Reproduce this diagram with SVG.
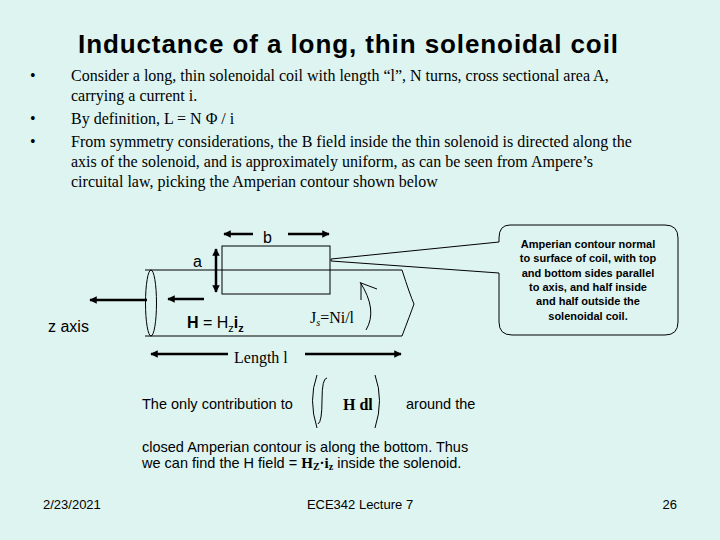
<svg xmlns="http://www.w3.org/2000/svg" width="720" height="540" viewBox="0 0 720 540">
<defs>
<style>
.s{font-family:"Liberation Serif",serif;font-size:16px;fill:#000}
.a{font-family:"Liberation Sans",Arial,sans-serif;fill:#000}
.l{stroke:#000;stroke-width:1;fill:none}
.ar{stroke:#000;stroke-width:2.5;fill:none}
</style>
<marker id="h" viewBox="0 0 10 10" refX="9" refY="5" markerWidth="3" markerHeight="3" orient="auto-start-reverse"><path d="M0,0L10,5L0,10z" fill="#000"/></marker>
</defs>
<rect width="720" height="540" fill="#ddf4f1"/>
<text x="78" y="53" class="a" font-size="26" font-weight="bold" textLength="540" lengthAdjust="spacing">Inductance of a long, thin solenoidal coil</text>
<g class="s">
<text x="30" y="81">•</text><text x="71" y="81">Consider a long, thin solenoidal coil with length “l”, N turns, cross sectional area A,</text>
<text x="71" y="101">carrying a current i.</text>
<text x="30" y="124">•</text><text x="71" y="124">By definition, L = N Φ / i</text>
<text x="30" y="147">•</text><text x="71" y="147">From symmetry considerations, the B field inside the thin solenoid is directed along the</text>
<text x="71" y="167">axis of the solenoid, and is approximately uniform, as can be seen from Ampere’s</text>
<text x="71" y="187">circuital law, picking the Amperian contour shown below</text>
</g>
<g id="coil">
<path class="l" d="M145,270H402Q410,295 414,304Q410,315 402,336H145"/>
<ellipse class="l" cx="151" cy="303" rx="5.5" ry="33"/>
</g>
<g id="contour"><rect class="l" x="222" y="246" width="108" height="48"/></g>
<g id="connectors">
<line class="ar" x1="253" y1="234" x2="224" y2="234" marker-end="url(#h)"/>
<line class="ar" x1="288" y1="234" x2="329" y2="234" marker-end="url(#h)"/>
<line class="ar" x1="216" y1="249" x2="216" y2="292" marker-start="url(#h)" marker-end="url(#h)"/>
<line class="ar" x1="147" y1="300" x2="90" y2="300" marker-end="url(#h)"/>
<line class="ar" x1="204" y1="299" x2="168" y2="299" marker-end="url(#h)"/>
<line class="ar" x1="228" y1="354" x2="151" y2="354" marker-end="url(#h)"/>
<line class="ar" x1="305" y1="354" x2="401" y2="354" marker-end="url(#h)"/>
<path class="l" d="M366,330Q378,310 360,282"/>
<path class="l" d="M361,283L361,300M361,283L377,289"/>
</g>
<g id="callout">
<path d="M510,225H665Q678,225 678,238V322Q678,335 665,335H512Q499,335 499,322V273L331,261V259L499,242V238Q499,225 510,225Z" fill="#ddf4f1" stroke="#000"/>
<g class="a" font-size="11" font-weight="bold" text-anchor="middle">
<text x="588" y="248">Amperian contour normal</text>
<text x="588" y="262">to surface of coil, with top</text>
<text x="588" y="277">and bottom  sides parallel</text>
<text x="588" y="291">to axis, and half inside</text>
<text x="588" y="305">and half outside the</text>
<text x="588" y="320">solenoidal coil.</text>
</g>
</g>
<g class="a" font-size="16">
<text x="263" y="243">b</text>
<text x="193" y="267">a</text>
<text x="48" y="332">z axis</text>
<text x="187" y="328"><tspan font-weight="bold">H</tspan> = H<tspan font-size="11" dy="4">z</tspan><tspan dy="-4" font-weight="bold">i</tspan><tspan font-size="11" dy="4" font-weight="bold">z</tspan></text>
</g>
<text x="310" y="323" class="s" font-size="15">J<tspan font-size="10" dy="3" font-style="italic">s</tspan><tspan dy="-3">=Ni/l</tspan></text>
<text x="234" y="363" class="s">Length l</text>
<g class="a" font-size="14.5">
<text x="142" y="409">The only contribution to</text>
<text x="406" y="409">around the</text>
<text x="142" y="452">closed Amperian contour is along the bottom.  Thus</text>
<text x="142" y="468">we can find the H field =  <tspan font-family="Liberation Serif,serif" font-weight="bold" font-size="15">H<tspan font-size="10" dy="2">Z</tspan><tspan dy="-2">·i</tspan><tspan font-size="10" dy="2">z</tspan></tspan><tspan dy="-2"> inside the solenoid.</tspan></text>
</g>
<path class="l" d="M317,375Q308,400 317,428M375,375Q384,400 375,428M327,378Q322,378 322,400Q322,422 318,424"/>
<text x="343" y="410" class="s" font-weight="bold" font-size="15">H dl</text>
<g class="a" font-size="13">
<text x="43" y="509">2/23/2021</text>
<text x="360" y="509" text-anchor="middle">ECE342 Lecture 7</text>
<text x="677" y="509" text-anchor="end">26</text>
</g>
</svg>
